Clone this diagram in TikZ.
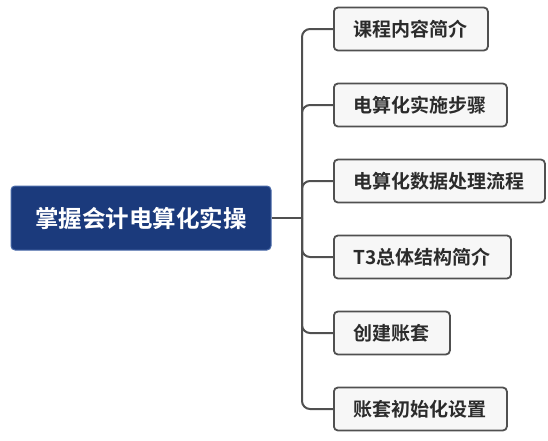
\documentclass[tikz,border=0pt]{standalone}
\usepackage{fontspec}
\setmainfont{Noto Sans CJK SC}[BoldFont={* Bold}]
\newfontfamily\cjkb{Noto Sans CJK SC Bold}
\definecolor{rootblue}{HTML}{1B3A7C}
\definecolor{rootedge}{HTML}{4A6AA8}
\definecolor{childfill}{HTML}{F7F7F7}
\definecolor{edgegray}{HTML}{505050}
\definecolor{textgray}{HTML}{2B2B2B}
\tikzset{
  rootbox/.style={draw=rootedge, line width=1pt, fill=rootblue, rounded corners=4pt,
    text=white, font=\cjkb\fontsize{23.5}{26}\selectfont, minimum width=260pt, minimum height=64pt, inner sep=0pt},
  childbox/.style={draw=edgegray, line width=1.8pt, fill=childfill, rounded corners=4pt,
    text=textgray, font=\cjkb\fontsize{19}{21}\selectfont, minimum height=43pt, inner xsep=20pt, inner ysep=0pt, anchor=west},
  conn/.style={draw=edgegray, line width=2pt, rounded corners=8pt}
}
\begin{document}
\begin{tikzpicture}[x=1pt,y=-1pt]
\useasboundingbox (0,0) rectangle (548,440);
\node[rootbox] (root) at (141,218) {掌握会计电算化实操};
\coordinate (trunk) at (302,218);
\node[childbox] (c1) at (333,29) {课程内容简介};
\node[childbox] (c2) at (333,105) {电算化实施步骤};
\node[childbox] (c3) at (333,181) {电算化数据处理流程};
\node[childbox] (c4) at (333,257) {T3总体结构简介};
\node[childbox] (c5) at (333,333) {创建账套};
\node[childbox] (c6) at (333,409) {账套初始化设置};
\draw[conn] (root.east) -- (trunk);
\foreach \c in {c1,c2,c3,c4,c5,c6} {\draw[conn] (trunk) |- (\c.west);}
\end{tikzpicture}
\end{document}
